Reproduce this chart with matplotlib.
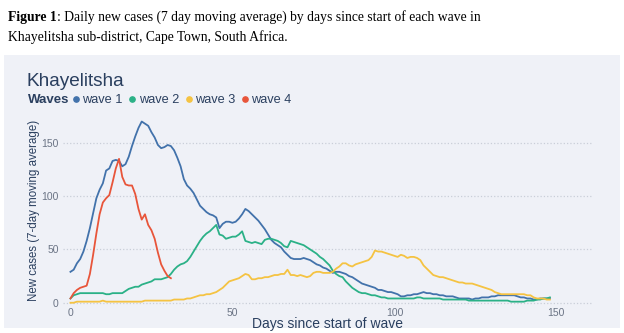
import matplotlib.pyplot as plt
from matplotlib.lines import Line2D
from matplotlib.patches import Rectangle

# 7-day moving average of new cases (one value per day)
wave1 = [29, 31, 37, 41, 48, 58, 70, 84, 98, 106, 112, 124, 126, 133, 134, 133, 128, 130, 137, 147,
         156, 164, 170, 168, 166, 160, 155, 148, 145, 146, 148, 147, 143, 136, 128, 116, 110, 107, 103, 97,
         91, 88, 85, 83, 82, 80, 70, 74, 76, 76, 75, 76, 79, 83, 88, 86, 83, 80, 77, 73,
         69, 64, 59, 56, 54, 52, 48, 45, 42, 41, 41, 41, 42, 41, 40, 38, 36, 35, 33, 32,
         30, 28, 29, 29, 28, 27, 25, 24, 22, 20, 18, 17, 16, 15, 14, 12, 12, 11, 10, 10,
         9, 8, 6, 6, 7, 7, 8, 8, 9, 10, 9, 9, 8, 8, 7, 7, 6, 6, 6, 5,
         4, 4, 4, 4, 3, 4, 4, 5, 5, 5, 6, 6, 7, 7, 7, 7, 7, 7, 6, 5,
         5, 4, 4, 3, 3, 4, 4, 4, 4]
wave2 = [4, 7, 8, 9, 9, 9, 9, 9, 9, 9, 9, 8, 8, 9, 9, 9, 9, 11, 13, 14,
         15, 15, 17, 18, 19, 20, 22, 22, 22, 23, 24, 27, 31, 34, 36, 37, 39, 43, 48, 53,
         58, 62, 65, 67, 70, 73, 64, 63, 60, 61, 62, 62, 64, 67, 58, 57, 56, 57, 56, 55,
         59, 60, 60, 59, 58, 56, 53, 52, 58, 57, 56, 55, 54, 52, 50, 48, 46, 43, 41, 38,
         35, 30, 27, 25, 24, 20, 17, 14, 12, 10, 9, 9, 8, 7, 7, 6, 5, 5, 4, 4,
         4, 4, 4, 4, 4, 4, 4, 5, 5, 4, 4, 4, 4, 4, 4, 3, 3, 3, 3, 3,
         3, 3, 3, 2, 2, 2, 2, 2, 2, 2, 2, 2, 2, 2, 2, 2, 1, 1, 1, 1,
         1, 2, 2, 2, 3, 3, 4, 4, 5]
wave3 = [0, 0, 1, 1, 1, 1, 1, 1, 1, 1, 2, 1, 1, 1, 1, 1, 1, 1, 1, 1,
         1, 1, 1, 2, 2, 2, 2, 2, 2, 2, 2, 2, 3, 3, 3, 3, 4, 4, 5, 6,
         7, 7, 8, 8, 9, 10, 12, 14, 17, 20, 21, 22, 23, 25, 27, 26, 22, 22, 23, 23,
         24, 24, 25, 26, 26, 27, 27, 31, 26, 26, 25, 26, 25, 24, 25, 28, 29, 29, 28, 28,
         28, 29, 32, 34, 37, 37, 35, 34, 36, 37, 38, 39, 40, 43, 49, 48, 48, 47, 46, 45,
         44, 43, 45, 44, 42, 43, 43, 42, 40, 35, 32, 29, 26, 25, 24, 24, 23, 22, 21, 20,
         19, 19, 18, 18, 18, 17, 16, 15, 14, 13, 12, 10, 9, 8, 8, 8, 8, 8, 8, 8,
         8, 7, 7, 5, 4, 4, 4, 3, 3]
wave4 = [4, 9, 12, 14, 15, 16, 27, 45, 65, 83, 94, 98, 101, 113, 126, 135, 118, 111, 110, 110,
         102, 88, 78, 83, 73, 68, 60, 47, 36, 30, 25, 23]

waves = ["wave 1", "wave 2", "wave 3", "wave 4"]
series = [wave1, wave2, wave3, wave4]
colors = ["#4272ab", "#2bb187", "#f5c342", "#e8553a"]

bg = "#eff1f7"
dark = "#2a3f5f"

plt.rcParams['font.family'] = ['Liberation Sans', 'DejaVu Sans']

fig = plt.figure(figsize=(6.24, 3.33), dpi=100)
fig.patch.set_facecolor("white")

# light panel behind the chart
fig.patches.append(Rectangle((4 / 624, 1 - 328 / 333), 616 / 624, 273 / 333,
                             transform=fig.transFigure, facecolor=bg, edgecolor="none", zorder=-5))

# caption above panel
cap1 = fig.text(8 / 624, 1 - 17 / 333, "Figure 1", fontfamily="Liberation Serif",
                fontweight="bold", fontsize=9.8, va="center")
fig.canvas.draw()
bb = cap1.get_window_extent(fig.canvas.get_renderer())
fig.text(bb.x1 / 624, 1 - 17 / 333,
         ": Daily new cases (7 day moving average) by days since start of each wave in",
         fontfamily="Liberation Serif", fontsize=9.8, va="center")
fig.text(8 / 624, 1 - 37 / 333, "Khayelitsha sub-district, Cape Town, South Africa.",
         fontfamily="Liberation Serif", fontsize=9.8, va="center")

ax = fig.add_axes([63 / 624, 1 - 307 / 333, 529 / 624, 194 / 333])
ax.set_facecolor(bg)
for name, vals, c in zip(waves, series, colors):
    days = list(range(len(vals)))
    ax.plot(days, vals, color=c, lw=1.3, label=name)

ax.set_xlim(-2.3, 161)
ax.set_ylim(-4, 178)
ax.set_xticks([0, 50, 100, 150])
ax.set_yticks([0, 50, 100, 150])
ax.grid(axis="y", color="#c9ced8", ls=":", lw=0.9)
ax.set_axisbelow(True)
for s in ax.spines.values():
    s.set_visible(False)
ax.tick_params(axis="x", length=0, labelsize=7.5, colors="#6b7485", pad=1)
ax.tick_params(axis="y", length=0, labelsize=7.5, colors="#6b7485", pad=3)
ax.set_xlabel("Days since start of wave", fontsize=10, color=dark, labelpad=-1)
ax.set_ylabel("New cases (7-day moving average)", fontsize=8.3, color=dark, labelpad=1)

fig.text(26 / 624, 1 - 81 / 333, "Khayelitsha", fontsize=13.7, color=dark, va="center")
fig.text(28 / 624, 1 - 100 / 333, "Waves", fontsize=9.5, fontweight="bold", color=dark, va="center")

handles = [Line2D([], [], marker="o", ls="none", color=c, markersize=3.8) for c in colors]
leg = fig.legend(handles, waves, loc="center left", bbox_to_anchor=(72 / 624, 1 - 100 / 333),
                 ncol=4, frameon=False, fontsize=9.2, handlelength=0.6, handletextpad=0.2,
                 columnspacing=0.45, borderaxespad=0, borderpad=0)
for t in leg.get_texts():
    t.set_color(dark)

fig.savefig("out.png", dpi=100, facecolor="white")
